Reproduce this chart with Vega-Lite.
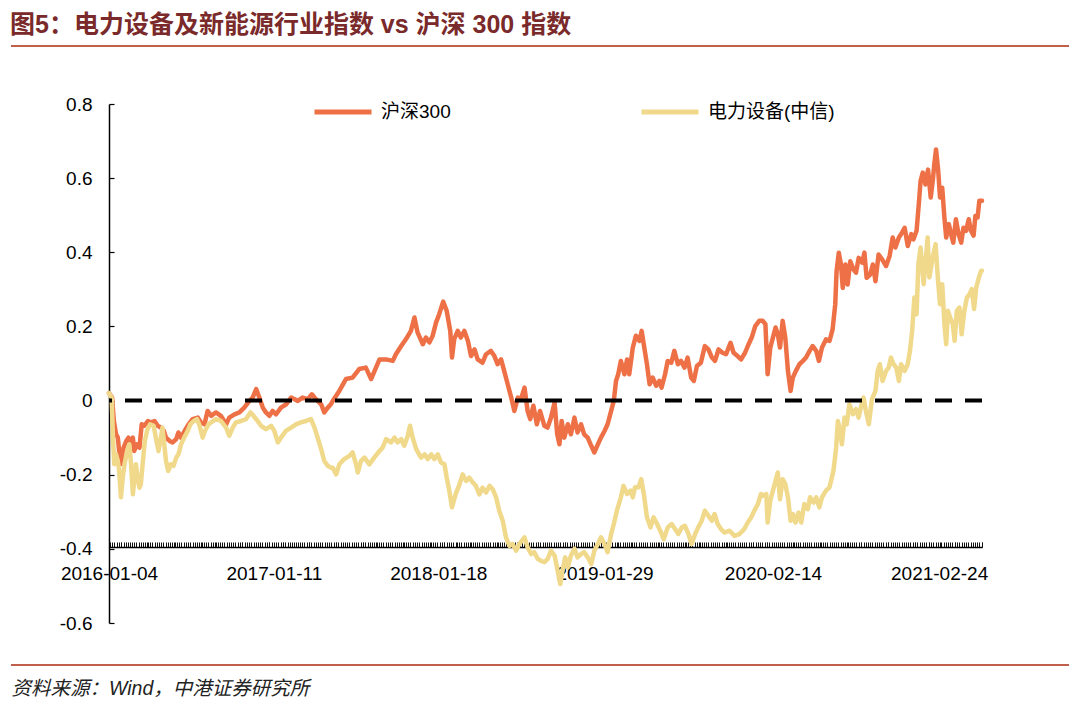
{
  "$schema": "https://vega.github.io/schema/vega-lite/v6.json",
  "background": "white",
  "padding": {"left": 10, "top": 13, "right": 2, "bottom": 0},
  "title": {
    "text": "图5：电力设备及新能源行业指数 vs 沪深 300 指数",
    "anchor": "start",
    "font": "Liberation Sans, Noto Sans CJK SC",
    "fontSize": 25,
    "fontWeight": "bold",
    "color": "#7A2A2A",
    "offset": 7
  },
  "datasets": {
    "hs300": [
      {"date": "2016-01-04", "value": 0.02},
      {"date": "2016-01-11", "value": 0.008},
      {"date": "2016-01-15", "value": -0.055},
      {"date": "2016-01-20", "value": -0.091},
      {"date": "2016-01-24", "value": -0.1},
      {"date": "2016-01-27", "value": -0.136},
      {"date": "2016-02-02", "value": -0.171},
      {"date": "2016-02-06", "value": -0.127},
      {"date": "2016-02-12", "value": -0.109},
      {"date": "2016-02-17", "value": -0.1},
      {"date": "2016-02-23", "value": -0.118},
      {"date": "2016-02-27", "value": -0.1},
      {"date": "2016-03-01", "value": -0.136},
      {"date": "2016-03-07", "value": -0.118},
      {"date": "2016-03-13", "value": -0.127},
      {"date": "2016-03-18", "value": -0.064},
      {"date": "2016-03-24", "value": -0.068},
      {"date": "2016-04-01", "value": -0.055},
      {"date": "2016-04-08", "value": -0.059},
      {"date": "2016-04-16", "value": -0.055},
      {"date": "2016-04-23", "value": -0.068},
      {"date": "2016-05-01", "value": -0.073},
      {"date": "2016-05-07", "value": -0.082},
      {"date": "2016-05-12", "value": -0.1},
      {"date": "2016-05-20", "value": -0.109},
      {"date": "2016-05-27", "value": -0.113},
      {"date": "2016-06-04", "value": -0.104},
      {"date": "2016-06-09", "value": -0.086},
      {"date": "2016-06-15", "value": -0.1},
      {"date": "2016-06-23", "value": -0.082},
      {"date": "2016-07-02", "value": -0.064},
      {"date": "2016-07-11", "value": -0.05},
      {"date": "2016-07-23", "value": -0.046},
      {"date": "2016-07-30", "value": -0.059},
      {"date": "2016-08-07", "value": -0.064},
      {"date": "2016-08-14", "value": -0.028},
      {"date": "2016-08-22", "value": -0.041},
      {"date": "2016-09-02", "value": -0.032},
      {"date": "2016-09-13", "value": -0.041},
      {"date": "2016-09-25", "value": -0.064},
      {"date": "2016-10-02", "value": -0.046},
      {"date": "2016-10-14", "value": -0.037},
      {"date": "2016-10-25", "value": -0.032},
      {"date": "2016-11-05", "value": -0.019},
      {"date": "2016-11-17", "value": 0.0},
      {"date": "2016-11-24", "value": 0.008},
      {"date": "2016-12-02", "value": 0.031},
      {"date": "2016-12-09", "value": 0.008},
      {"date": "2016-12-17", "value": -0.019},
      {"date": "2016-12-24", "value": -0.032},
      {"date": "2017-01-01", "value": -0.041},
      {"date": "2017-01-08", "value": -0.028},
      {"date": "2017-01-16", "value": -0.037},
      {"date": "2017-01-27", "value": -0.019},
      {"date": "2017-02-08", "value": -0.01},
      {"date": "2017-02-19", "value": 0.008},
      {"date": "2017-02-26", "value": 0.004},
      {"date": "2017-03-06", "value": -0.001},
      {"date": "2017-03-17", "value": 0.008},
      {"date": "2017-03-29", "value": 0.004},
      {"date": "2017-04-07", "value": 0.017},
      {"date": "2017-04-16", "value": 0.004},
      {"date": "2017-04-28", "value": -0.01},
      {"date": "2017-05-05", "value": -0.032},
      {"date": "2017-05-13", "value": -0.019},
      {"date": "2017-05-20", "value": -0.01},
      {"date": "2017-05-24", "value": -0.001},
      {"date": "2017-06-08", "value": 0.026},
      {"date": "2017-06-23", "value": 0.058},
      {"date": "2017-07-08", "value": 0.062},
      {"date": "2017-07-23", "value": 0.085},
      {"date": "2017-08-07", "value": 0.089},
      {"date": "2017-08-19", "value": 0.058},
      {"date": "2017-08-30", "value": 0.089},
      {"date": "2017-09-07", "value": 0.111},
      {"date": "2017-09-22", "value": 0.111},
      {"date": "2017-10-07", "value": 0.107},
      {"date": "2017-10-14", "value": 0.125},
      {"date": "2017-10-26", "value": 0.147},
      {"date": "2017-11-06", "value": 0.166},
      {"date": "2017-11-17", "value": 0.188},
      {"date": "2017-11-25", "value": 0.224},
      {"date": "2017-12-02", "value": 0.184},
      {"date": "2017-12-14", "value": 0.152},
      {"date": "2017-12-21", "value": 0.17},
      {"date": "2017-12-29", "value": 0.157},
      {"date": "2018-01-05", "value": 0.174},
      {"date": "2018-01-13", "value": 0.211},
      {"date": "2018-01-20", "value": 0.233},
      {"date": "2018-01-29", "value": 0.267},
      {"date": "2018-02-06", "value": 0.242},
      {"date": "2018-02-14", "value": 0.188},
      {"date": "2018-02-18", "value": 0.116},
      {"date": "2018-02-23", "value": 0.166},
      {"date": "2018-03-03", "value": 0.188},
      {"date": "2018-03-10", "value": 0.17},
      {"date": "2018-03-18", "value": 0.188},
      {"date": "2018-03-26", "value": 0.161},
      {"date": "2018-04-02", "value": 0.12},
      {"date": "2018-04-10", "value": 0.138},
      {"date": "2018-04-17", "value": 0.111},
      {"date": "2018-04-28", "value": 0.102},
      {"date": "2018-05-06", "value": 0.125},
      {"date": "2018-05-17", "value": 0.134},
      {"date": "2018-05-25", "value": 0.12},
      {"date": "2018-06-01", "value": 0.098},
      {"date": "2018-06-09", "value": 0.111},
      {"date": "2018-06-16", "value": 0.08},
      {"date": "2018-06-24", "value": 0.044},
      {"date": "2018-07-02", "value": 0.008},
      {"date": "2018-07-09", "value": -0.028},
      {"date": "2018-07-17", "value": 0.008},
      {"date": "2018-07-24", "value": 0.004},
      {"date": "2018-08-01", "value": 0.035},
      {"date": "2018-08-08", "value": -0.028},
      {"date": "2018-08-14", "value": -0.05},
      {"date": "2018-08-21", "value": -0.014},
      {"date": "2018-08-29", "value": -0.064},
      {"date": "2018-09-05", "value": -0.028},
      {"date": "2018-09-15", "value": -0.068},
      {"date": "2018-09-22", "value": -0.073},
      {"date": "2018-09-30", "value": -0.046},
      {"date": "2018-10-08", "value": -0.005},
      {"date": "2018-10-14", "value": -0.091},
      {"date": "2018-10-19", "value": -0.118},
      {"date": "2018-10-24", "value": -0.055},
      {"date": "2018-10-30", "value": -0.1},
      {"date": "2018-11-07", "value": -0.064},
      {"date": "2018-11-14", "value": -0.091},
      {"date": "2018-11-22", "value": -0.046},
      {"date": "2018-11-29", "value": -0.086},
      {"date": "2018-12-07", "value": -0.064},
      {"date": "2018-12-14", "value": -0.091},
      {"date": "2018-12-22", "value": -0.1},
      {"date": "2018-12-30", "value": -0.122},
      {"date": "2019-01-06", "value": -0.14},
      {"date": "2019-01-14", "value": -0.118},
      {"date": "2019-01-21", "value": -0.1},
      {"date": "2019-01-29", "value": -0.082},
      {"date": "2019-02-05", "value": -0.064},
      {"date": "2019-02-13", "value": -0.028},
      {"date": "2019-02-19", "value": -0.001},
      {"date": "2019-02-24", "value": 0.053},
      {"date": "2019-03-01", "value": 0.071},
      {"date": "2019-03-07", "value": 0.107},
      {"date": "2019-03-15", "value": 0.071},
      {"date": "2019-03-21", "value": 0.111},
      {"date": "2019-03-26", "value": 0.071},
      {"date": "2019-04-03", "value": 0.143},
      {"date": "2019-04-10", "value": 0.175},
      {"date": "2019-04-18", "value": 0.161},
      {"date": "2019-04-23", "value": 0.188},
      {"date": "2019-04-29", "value": 0.143},
      {"date": "2019-05-05", "value": 0.098},
      {"date": "2019-05-11", "value": 0.044},
      {"date": "2019-05-18", "value": 0.062},
      {"date": "2019-05-26", "value": 0.04},
      {"date": "2019-06-02", "value": 0.053},
      {"date": "2019-06-07", "value": 0.035},
      {"date": "2019-06-15", "value": 0.071},
      {"date": "2019-06-21", "value": 0.107},
      {"date": "2019-06-29", "value": 0.102},
      {"date": "2019-07-06", "value": 0.134},
      {"date": "2019-07-14", "value": 0.098},
      {"date": "2019-07-21", "value": 0.107},
      {"date": "2019-07-29", "value": 0.089},
      {"date": "2019-08-05", "value": 0.116},
      {"date": "2019-08-13", "value": 0.062},
      {"date": "2019-08-19", "value": 0.053},
      {"date": "2019-08-26", "value": 0.093},
      {"date": "2019-09-04", "value": 0.102},
      {"date": "2019-09-13", "value": 0.147},
      {"date": "2019-09-21", "value": 0.138},
      {"date": "2019-09-29", "value": 0.116},
      {"date": "2019-10-06", "value": 0.107},
      {"date": "2019-10-14", "value": 0.138},
      {"date": "2019-10-23", "value": 0.129},
      {"date": "2019-10-31", "value": 0.125},
      {"date": "2019-11-10", "value": 0.156},
      {"date": "2019-11-17", "value": 0.129},
      {"date": "2019-11-26", "value": 0.12},
      {"date": "2019-12-04", "value": 0.111},
      {"date": "2019-12-13", "value": 0.129},
      {"date": "2019-12-21", "value": 0.152},
      {"date": "2019-12-28", "value": 0.17},
      {"date": "2020-01-05", "value": 0.201},
      {"date": "2020-01-14", "value": 0.215},
      {"date": "2020-01-22", "value": 0.215},
      {"date": "2020-01-28", "value": 0.206},
      {"date": "2020-02-02", "value": 0.071},
      {"date": "2020-02-08", "value": 0.143},
      {"date": "2020-02-14", "value": 0.17},
      {"date": "2020-02-20", "value": 0.197},
      {"date": "2020-02-25", "value": 0.179},
      {"date": "2020-03-01", "value": 0.143},
      {"date": "2020-03-07", "value": 0.215},
      {"date": "2020-03-13", "value": 0.17},
      {"date": "2020-03-19", "value": 0.08},
      {"date": "2020-03-25", "value": 0.026},
      {"date": "2020-03-30", "value": 0.062},
      {"date": "2020-04-06", "value": 0.08},
      {"date": "2020-04-14", "value": 0.098},
      {"date": "2020-04-22", "value": 0.107},
      {"date": "2020-04-29", "value": 0.116},
      {"date": "2020-05-07", "value": 0.134},
      {"date": "2020-05-14", "value": 0.147},
      {"date": "2020-05-22", "value": 0.134},
      {"date": "2020-05-28", "value": 0.107},
      {"date": "2020-06-04", "value": 0.143},
      {"date": "2020-06-13", "value": 0.165},
      {"date": "2020-06-21", "value": 0.161},
      {"date": "2020-06-28", "value": 0.192},
      {"date": "2020-07-04", "value": 0.26},
      {"date": "2020-07-07", "value": 0.349},
      {"date": "2020-07-12", "value": 0.399},
      {"date": "2020-07-17", "value": 0.367},
      {"date": "2020-07-21", "value": 0.304},
      {"date": "2020-07-27", "value": 0.367},
      {"date": "2020-08-01", "value": 0.313},
      {"date": "2020-08-07", "value": 0.376},
      {"date": "2020-08-14", "value": 0.354},
      {"date": "2020-08-20", "value": 0.345},
      {"date": "2020-08-26", "value": 0.385},
      {"date": "2020-09-03", "value": 0.372},
      {"date": "2020-09-08", "value": 0.399},
      {"date": "2020-09-13", "value": 0.331},
      {"date": "2020-09-21", "value": 0.34},
      {"date": "2020-09-27", "value": 0.367},
      {"date": "2020-10-03", "value": 0.322},
      {"date": "2020-10-10", "value": 0.394},
      {"date": "2020-10-18", "value": 0.381},
      {"date": "2020-10-27", "value": 0.363},
      {"date": "2020-11-04", "value": 0.39},
      {"date": "2020-11-11", "value": 0.44},
      {"date": "2020-11-17", "value": 0.413},
      {"date": "2020-11-25", "value": 0.44},
      {"date": "2020-12-02", "value": 0.453},
      {"date": "2020-12-08", "value": 0.466},
      {"date": "2020-12-15", "value": 0.417},
      {"date": "2020-12-23", "value": 0.449},
      {"date": "2020-12-28", "value": 0.435},
      {"date": "2021-01-04", "value": 0.458},
      {"date": "2021-01-09", "value": 0.53},
      {"date": "2021-01-13", "value": 0.592},
      {"date": "2021-01-18", "value": 0.615},
      {"date": "2021-01-24", "value": 0.583},
      {"date": "2021-01-30", "value": 0.623},
      {"date": "2021-02-05", "value": 0.548},
      {"date": "2021-02-10", "value": 0.597},
      {"date": "2021-02-13", "value": 0.637},
      {"date": "2021-02-17", "value": 0.677},
      {"date": "2021-02-22", "value": 0.619},
      {"date": "2021-02-26", "value": 0.548},
      {"date": "2021-03-03", "value": 0.574},
      {"date": "2021-03-08", "value": 0.493},
      {"date": "2021-03-12", "value": 0.44},
      {"date": "2021-03-18", "value": 0.476},
      {"date": "2021-03-23", "value": 0.449},
      {"date": "2021-03-28", "value": 0.426},
      {"date": "2021-04-03", "value": 0.489},
      {"date": "2021-04-09", "value": 0.449},
      {"date": "2021-04-15", "value": 0.426},
      {"date": "2021-04-20", "value": 0.466},
      {"date": "2021-04-26", "value": 0.458},
      {"date": "2021-05-02", "value": 0.489},
      {"date": "2021-05-07", "value": 0.458},
      {"date": "2021-05-13", "value": 0.445},
      {"date": "2021-05-17", "value": 0.498},
      {"date": "2021-05-22", "value": 0.494},
      {"date": "2021-05-26", "value": 0.539},
      {"date": "2021-06-01", "value": 0.539}
    ],
    "dlsb": [
      {"date": "2016-01-04", "value": 0.02},
      {"date": "2016-01-10", "value": 0.008},
      {"date": "2016-01-13", "value": -0.1},
      {"date": "2016-01-16", "value": -0.172},
      {"date": "2016-01-20", "value": -0.145},
      {"date": "2016-01-24", "value": -0.163},
      {"date": "2016-01-27", "value": -0.19},
      {"date": "2016-01-31", "value": -0.261},
      {"date": "2016-02-04", "value": -0.208},
      {"date": "2016-02-08", "value": -0.172},
      {"date": "2016-02-14", "value": -0.136},
      {"date": "2016-02-19", "value": -0.118},
      {"date": "2016-02-23", "value": -0.172},
      {"date": "2016-02-27", "value": -0.253},
      {"date": "2016-03-01", "value": -0.217},
      {"date": "2016-03-05", "value": -0.172},
      {"date": "2016-03-09", "value": -0.212},
      {"date": "2016-03-13", "value": -0.235},
      {"date": "2016-03-16", "value": -0.226},
      {"date": "2016-03-20", "value": -0.172},
      {"date": "2016-03-25", "value": -0.109},
      {"date": "2016-03-31", "value": -0.077},
      {"date": "2016-04-06", "value": -0.064},
      {"date": "2016-04-14", "value": -0.068},
      {"date": "2016-04-19", "value": -0.1},
      {"date": "2016-04-25", "value": -0.136},
      {"date": "2016-04-29", "value": -0.109},
      {"date": "2016-05-04", "value": -0.073},
      {"date": "2016-05-08", "value": -0.118},
      {"date": "2016-05-12", "value": -0.163},
      {"date": "2016-05-17", "value": -0.19},
      {"date": "2016-05-23", "value": -0.172},
      {"date": "2016-05-29", "value": -0.176},
      {"date": "2016-06-04", "value": -0.154},
      {"date": "2016-06-09", "value": -0.145},
      {"date": "2016-06-15", "value": -0.118},
      {"date": "2016-06-22", "value": -0.1},
      {"date": "2016-06-30", "value": -0.082},
      {"date": "2016-07-06", "value": -0.064},
      {"date": "2016-07-14", "value": -0.055},
      {"date": "2016-07-21", "value": -0.05},
      {"date": "2016-07-26", "value": -0.064},
      {"date": "2016-08-03", "value": -0.1},
      {"date": "2016-08-08", "value": -0.082},
      {"date": "2016-08-16", "value": -0.064},
      {"date": "2016-08-22", "value": -0.059},
      {"date": "2016-09-02", "value": -0.05},
      {"date": "2016-09-13", "value": -0.055},
      {"date": "2016-09-25", "value": -0.073},
      {"date": "2016-10-02", "value": -0.095},
      {"date": "2016-10-10", "value": -0.073},
      {"date": "2016-10-17", "value": -0.059},
      {"date": "2016-10-29", "value": -0.055},
      {"date": "2016-11-09", "value": -0.05},
      {"date": "2016-11-19", "value": -0.032},
      {"date": "2016-11-26", "value": -0.041},
      {"date": "2016-12-05", "value": -0.055},
      {"date": "2016-12-13", "value": -0.068},
      {"date": "2016-12-24", "value": -0.077},
      {"date": "2017-01-05", "value": -0.068},
      {"date": "2017-01-12", "value": -0.082},
      {"date": "2017-01-20", "value": -0.113},
      {"date": "2017-01-27", "value": -0.1},
      {"date": "2017-02-07", "value": -0.082},
      {"date": "2017-02-19", "value": -0.073},
      {"date": "2017-03-02", "value": -0.064},
      {"date": "2017-03-13", "value": -0.059},
      {"date": "2017-03-25", "value": -0.055},
      {"date": "2017-04-05", "value": -0.05},
      {"date": "2017-04-13", "value": -0.073},
      {"date": "2017-04-20", "value": -0.1},
      {"date": "2017-04-28", "value": -0.131},
      {"date": "2017-05-05", "value": -0.163},
      {"date": "2017-05-13", "value": -0.176},
      {"date": "2017-05-20", "value": -0.181},
      {"date": "2017-05-24", "value": -0.181},
      {"date": "2017-06-01", "value": -0.199},
      {"date": "2017-06-08", "value": -0.172},
      {"date": "2017-06-19", "value": -0.158},
      {"date": "2017-07-01", "value": -0.149},
      {"date": "2017-07-08", "value": -0.14},
      {"date": "2017-07-16", "value": -0.172},
      {"date": "2017-07-20", "value": -0.194},
      {"date": "2017-07-27", "value": -0.163},
      {"date": "2017-08-04", "value": -0.154},
      {"date": "2017-08-15", "value": -0.172},
      {"date": "2017-08-26", "value": -0.154},
      {"date": "2017-09-07", "value": -0.136},
      {"date": "2017-09-14", "value": -0.127},
      {"date": "2017-09-22", "value": -0.104},
      {"date": "2017-10-03", "value": -0.113},
      {"date": "2017-10-11", "value": -0.1},
      {"date": "2017-10-18", "value": -0.113},
      {"date": "2017-10-26", "value": -0.104},
      {"date": "2017-11-02", "value": -0.122},
      {"date": "2017-11-10", "value": -0.095},
      {"date": "2017-11-15", "value": -0.068},
      {"date": "2017-11-21", "value": -0.1},
      {"date": "2017-11-29", "value": -0.131},
      {"date": "2017-12-10", "value": -0.154},
      {"date": "2017-12-18", "value": -0.145},
      {"date": "2017-12-25", "value": -0.158},
      {"date": "2018-01-02", "value": -0.145},
      {"date": "2018-01-09", "value": -0.158},
      {"date": "2018-01-17", "value": -0.145},
      {"date": "2018-01-24", "value": -0.167},
      {"date": "2018-02-01", "value": -0.172},
      {"date": "2018-02-06", "value": -0.208},
      {"date": "2018-02-12", "value": -0.244},
      {"date": "2018-02-18", "value": -0.288},
      {"date": "2018-02-26", "value": -0.253},
      {"date": "2018-03-07", "value": -0.226},
      {"date": "2018-03-14", "value": -0.199},
      {"date": "2018-03-22", "value": -0.217},
      {"date": "2018-03-29", "value": -0.208},
      {"date": "2018-04-06", "value": -0.221},
      {"date": "2018-04-13", "value": -0.23},
      {"date": "2018-04-21", "value": -0.253},
      {"date": "2018-04-28", "value": -0.235},
      {"date": "2018-05-06", "value": -0.248},
      {"date": "2018-05-14", "value": -0.23},
      {"date": "2018-05-21", "value": -0.239},
      {"date": "2018-05-29", "value": -0.262},
      {"date": "2018-06-05", "value": -0.298},
      {"date": "2018-06-13", "value": -0.325},
      {"date": "2018-06-20", "value": -0.369},
      {"date": "2018-06-28", "value": -0.392},
      {"date": "2018-07-05", "value": -0.387},
      {"date": "2018-07-13", "value": -0.405},
      {"date": "2018-07-20", "value": -0.387},
      {"date": "2018-08-01", "value": -0.369},
      {"date": "2018-08-08", "value": -0.396},
      {"date": "2018-08-16", "value": -0.414},
      {"date": "2018-08-23", "value": -0.409},
      {"date": "2018-08-31", "value": -0.427},
      {"date": "2018-09-07", "value": -0.432},
      {"date": "2018-09-15", "value": -0.436},
      {"date": "2018-09-22", "value": -0.428},
      {"date": "2018-09-30", "value": -0.405},
      {"date": "2018-10-08", "value": -0.418},
      {"date": "2018-10-15", "value": -0.459},
      {"date": "2018-10-21", "value": -0.495},
      {"date": "2018-10-26", "value": -0.459},
      {"date": "2018-11-01", "value": -0.423},
      {"date": "2018-11-07", "value": -0.45},
      {"date": "2018-11-14", "value": -0.418},
      {"date": "2018-11-22", "value": -0.4},
      {"date": "2018-11-29", "value": -0.423},
      {"date": "2018-12-07", "value": -0.414},
      {"date": "2018-12-14", "value": -0.409},
      {"date": "2018-12-22", "value": -0.423},
      {"date": "2018-12-30", "value": -0.441},
      {"date": "2019-01-06", "value": -0.405},
      {"date": "2019-01-14", "value": -0.387},
      {"date": "2019-01-21", "value": -0.369},
      {"date": "2019-01-29", "value": -0.387},
      {"date": "2019-02-05", "value": -0.409},
      {"date": "2019-02-13", "value": -0.36},
      {"date": "2019-02-19", "value": -0.333},
      {"date": "2019-02-26", "value": -0.297},
      {"date": "2019-03-07", "value": -0.261},
      {"date": "2019-03-13", "value": -0.23},
      {"date": "2019-03-21", "value": -0.252},
      {"date": "2019-03-29", "value": -0.243},
      {"date": "2019-04-03", "value": -0.261},
      {"date": "2019-04-08", "value": -0.234},
      {"date": "2019-04-16", "value": -0.234},
      {"date": "2019-04-22", "value": -0.212},
      {"date": "2019-04-28", "value": -0.252},
      {"date": "2019-05-05", "value": -0.315},
      {"date": "2019-05-13", "value": -0.342},
      {"date": "2019-05-20", "value": -0.315},
      {"date": "2019-05-28", "value": -0.333},
      {"date": "2019-06-04", "value": -0.351},
      {"date": "2019-06-12", "value": -0.374},
      {"date": "2019-06-21", "value": -0.342},
      {"date": "2019-06-30", "value": -0.333},
      {"date": "2019-07-08", "value": -0.347},
      {"date": "2019-07-15", "value": -0.36},
      {"date": "2019-07-23", "value": -0.342},
      {"date": "2019-07-30", "value": -0.338},
      {"date": "2019-08-07", "value": -0.36},
      {"date": "2019-08-14", "value": -0.387},
      {"date": "2019-08-22", "value": -0.36},
      {"date": "2019-08-29", "value": -0.342},
      {"date": "2019-09-06", "value": -0.324},
      {"date": "2019-09-13", "value": -0.297},
      {"date": "2019-09-21", "value": -0.311},
      {"date": "2019-09-29", "value": -0.324},
      {"date": "2019-10-05", "value": -0.306},
      {"date": "2019-10-12", "value": -0.333},
      {"date": "2019-10-20", "value": -0.347},
      {"date": "2019-10-27", "value": -0.356},
      {"date": "2019-11-08", "value": -0.351},
      {"date": "2019-11-19", "value": -0.365},
      {"date": "2019-11-30", "value": -0.36},
      {"date": "2019-12-11", "value": -0.347},
      {"date": "2019-12-19", "value": -0.329},
      {"date": "2019-12-27", "value": -0.315},
      {"date": "2020-01-03", "value": -0.297},
      {"date": "2020-01-11", "value": -0.279},
      {"date": "2020-01-18", "value": -0.252},
      {"date": "2020-01-22", "value": -0.257},
      {"date": "2020-01-30", "value": -0.252},
      {"date": "2020-02-02", "value": -0.329},
      {"date": "2020-02-08", "value": -0.27},
      {"date": "2020-02-14", "value": -0.243},
      {"date": "2020-02-20", "value": -0.216},
      {"date": "2020-02-25", "value": -0.194},
      {"date": "2020-03-01", "value": -0.266},
      {"date": "2020-03-07", "value": -0.212},
      {"date": "2020-03-13", "value": -0.225},
      {"date": "2020-03-19", "value": -0.261},
      {"date": "2020-03-25", "value": -0.324},
      {"date": "2020-03-30", "value": -0.306},
      {"date": "2020-04-05", "value": -0.329},
      {"date": "2020-04-12", "value": -0.302},
      {"date": "2020-04-18", "value": -0.329},
      {"date": "2020-04-25", "value": -0.279},
      {"date": "2020-05-03", "value": -0.293},
      {"date": "2020-05-08", "value": -0.261},
      {"date": "2020-05-16", "value": -0.275},
      {"date": "2020-05-22", "value": -0.261},
      {"date": "2020-05-29", "value": -0.288},
      {"date": "2020-06-04", "value": -0.261},
      {"date": "2020-06-13", "value": -0.243},
      {"date": "2020-06-21", "value": -0.234},
      {"date": "2020-06-30", "value": -0.189},
      {"date": "2020-07-06", "value": -0.127},
      {"date": "2020-07-10", "value": -0.055},
      {"date": "2020-07-15", "value": -0.082},
      {"date": "2020-07-19", "value": -0.118},
      {"date": "2020-07-25", "value": -0.046},
      {"date": "2020-07-30", "value": -0.064},
      {"date": "2020-08-05", "value": -0.01},
      {"date": "2020-08-13", "value": -0.037},
      {"date": "2020-08-20", "value": -0.023},
      {"date": "2020-08-26", "value": -0.046},
      {"date": "2020-08-31", "value": -0.019},
      {"date": "2020-09-06", "value": 0.008},
      {"date": "2020-09-12", "value": -0.032},
      {"date": "2020-09-18", "value": -0.064},
      {"date": "2020-09-25", "value": 0.004},
      {"date": "2020-10-03", "value": 0.026},
      {"date": "2020-10-08", "value": 0.08},
      {"date": "2020-10-13", "value": 0.098},
      {"date": "2020-10-19", "value": 0.053},
      {"date": "2020-10-27", "value": 0.08},
      {"date": "2020-11-02", "value": 0.089},
      {"date": "2020-11-07", "value": 0.116},
      {"date": "2020-11-13", "value": 0.098},
      {"date": "2020-11-19", "value": 0.089},
      {"date": "2020-11-25", "value": 0.053},
      {"date": "2020-11-30", "value": 0.098},
      {"date": "2020-12-08", "value": 0.08},
      {"date": "2020-12-15", "value": 0.098},
      {"date": "2020-12-20", "value": 0.134},
      {"date": "2020-12-25", "value": 0.188},
      {"date": "2020-12-30", "value": 0.278},
      {"date": "2021-01-04", "value": 0.233},
      {"date": "2021-01-08", "value": 0.368},
      {"date": "2021-01-13", "value": 0.413},
      {"date": "2021-01-20", "value": 0.314},
      {"date": "2021-01-24", "value": 0.368},
      {"date": "2021-01-29", "value": 0.44},
      {"date": "2021-02-02", "value": 0.332},
      {"date": "2021-02-07", "value": 0.368},
      {"date": "2021-02-11", "value": 0.395},
      {"date": "2021-02-16", "value": 0.422},
      {"date": "2021-02-21", "value": 0.332},
      {"date": "2021-02-26", "value": 0.26},
      {"date": "2021-03-03", "value": 0.314},
      {"date": "2021-03-08", "value": 0.206},
      {"date": "2021-03-12", "value": 0.152},
      {"date": "2021-03-16", "value": 0.242},
      {"date": "2021-03-21", "value": 0.224},
      {"date": "2021-03-27", "value": 0.206},
      {"date": "2021-03-31", "value": 0.161},
      {"date": "2021-04-05", "value": 0.242},
      {"date": "2021-04-11", "value": 0.251},
      {"date": "2021-04-16", "value": 0.179},
      {"date": "2021-04-22", "value": 0.242},
      {"date": "2021-04-28", "value": 0.278},
      {"date": "2021-05-04", "value": 0.287},
      {"date": "2021-05-09", "value": 0.301},
      {"date": "2021-05-14", "value": 0.247},
      {"date": "2021-05-19", "value": 0.305},
      {"date": "2021-05-25", "value": 0.332},
      {"date": "2021-05-30", "value": 0.35},
      {"date": "2021-06-01", "value": 0.35}
    ]
  },
  "concat": [
    {
      "width": 873,
      "height": 18,
      "data": {"values": [{"from": 0, "to": 1, "edge": 1}]},
      "mark": {"type": "rule", "color": "#C0604C", "strokeWidth": 2},
      "encoding": {
        "x": {"field": "from", "type": "quantitative", "scale": {"domain": [0, 1], "range": [-98, 960]}, "axis": null},
        "x2": {"field": "to"},
        "y": {"field": "edge", "type": "quantitative", "scale": {"domain": [0, 1]}, "axis": null}
      }
    },
    {
      "width": 873,
      "height": 519,
      "layer": [
        {
          "data": {"name": "hs300"},
          "mark": {"type": "line", "strokeWidth": 4.5, "strokeJoin": "round", "strokeCap": "round"},
          "encoding": {
            "x": {
              "field": "date", "type": "temporal", "title": null,
              "scale": {"type": "utc", "domain": [{"year": 2016, "month": 1, "date": 4, "utc": true}, {"year": 2021, "month": 6, "date": 1, "utc": true}]},
              "axis": {
                "orient": "bottom", "offset": -76, "labels": false, "domain": false, "grid": false,
                "tickCount": {"interval": "day", "step": 5}, "tickSize": -5, "tickColor": "#111111", "tickWidth": 1
              }
            },
            "y": {
              "field": "value", "type": "quantitative", "title": null,
              "scale": {"domain": [-0.6, 0.8], "nice": false, "zero": false},
              "axis": {
                "values": [-0.6, -0.4, -0.2, 0, 0.2, 0.4, 0.6, 0.8],
                "labelExpr": "datum.value == 0 ? '0' : (datum.value < 0 ? '-' + format(-datum.value, '.1f') : format(datum.value, '.1f'))",
                "grid": false, "domainColor": "black", "domainWidth": 1.5,
                "tickColor": "black", "tickSize": -5, "tickWidth": 1.2,
                "labelPadding": 22, "labelFontSize": 19, "labelFont": "Liberation Sans", "labelColor": "black",
                "minExtent": 98, "maxExtent": 98
              }
            },
            "color": {
              "datum": "沪深300",
              "scale": {"domain": ["沪深300", "电力设备(中信)"], "range": ["#EE7046", "#F0D98B"]},
              "legend": {
                "orient": "none", "legendX": 203, "legendY": 35, "direction": "horizontal", "title": null,
                "symbolType": "stroke", "symbolSize": 3249, "symbolStrokeWidth": 5,
                "labelFontSize": 19, "labelFont": "Liberation Sans, Noto Sans CJK SC", "labelColor": "black",
                "labelOffset": 7, "columnPadding": 180, "padding": 0
              }
            }
          }
        },
        {
          "data": {"name": "dlsb"},
          "mark": {"type": "line", "strokeWidth": 4.5, "strokeJoin": "round", "strokeCap": "round"},
          "encoding": {
            "x": {
              "field": "date", "type": "temporal", "title": null,
              "scale": {"type": "utc", "domain": [{"year": 2016, "month": 1, "date": 4, "utc": true}, {"year": 2021, "month": 6, "date": 1, "utc": true}]},
              "axis": {
                "orient": "bottom", "offset": -76, "ticks": false, "grid": false,
                "domainColor": "black", "domainWidth": 1.5,
                "values": [
                  {"year": 2016, "month": 1, "date": 4, "utc": true},
                  {"year": 2017, "month": 1, "date": 11, "utc": true},
                  {"year": 2018, "month": 1, "date": 18, "utc": true},
                  {"year": 2019, "month": 1, "date": 29, "utc": true},
                  {"year": 2020, "month": 2, "date": 14, "utc": true},
                  {"year": 2021, "month": 2, "date": 24, "utc": true}
                ],
                "labelExpr": "utcFormat(datum.value, '%Y-%m-%d')",
                "labelFlush": false, "labelOverlap": false,
                "labelPadding": 17, "labelFontSize": 19, "labelFont": "Liberation Sans", "labelColor": "black"
              }
            },
            "y": {
              "field": "value", "type": "quantitative", "title": null,
              "scale": {"domain": [-0.6, 0.8], "nice": false, "zero": false}
            },
            "color": {"datum": "电力设备(中信)"}
          }
        },
        {
          "data": {"values": [{"ref": 0}]},
          "mark": {"type": "rule", "color": "black", "strokeWidth": 4, "strokeDash": [17, 13]},
          "encoding": {
            "y": {
              "field": "ref", "type": "quantitative", "title": null,
              "scale": {"domain": [-0.6, 0.8], "nice": false, "zero": false}
            }
          }
        }
      ],
      "resolve": {"axis": {"x": "independent"}}
    },
    {
      "width": 873,
      "height": 12,
      "data": {"values": [{"from": 0, "to": 1, "edge": 1}]},
      "mark": {"type": "rule", "color": "#C0604C", "strokeWidth": 2},
      "encoding": {
        "x": {
          "field": "from", "type": "quantitative",
          "scale": {"domain": [0, 1], "range": [-98, 960]},
          "axis": {
            "orient": "bottom", "domain": false, "ticks": false, "labels": false, "grid": false,
            "title": "资料来源：Wind，中港证券研究所",
            "titleAnchor": "start", "titlePadding": 2,
            "titleFont": "Liberation Sans, Noto Sans CJK SC", "titleFontSize": 19.5,
            "titleFontStyle": "italic", "titleFontWeight": "normal", "titleColor": "#222222"
          }
        },
        "x2": {"field": "to"},
        "y": {"field": "edge", "type": "quantitative", "scale": {"domain": [0, 1]}, "axis": null}
      }
    }
  ],
  "columns": 1,
  "spacing": 31,
  "config": {
    "view": {"stroke": null}
  }
}
